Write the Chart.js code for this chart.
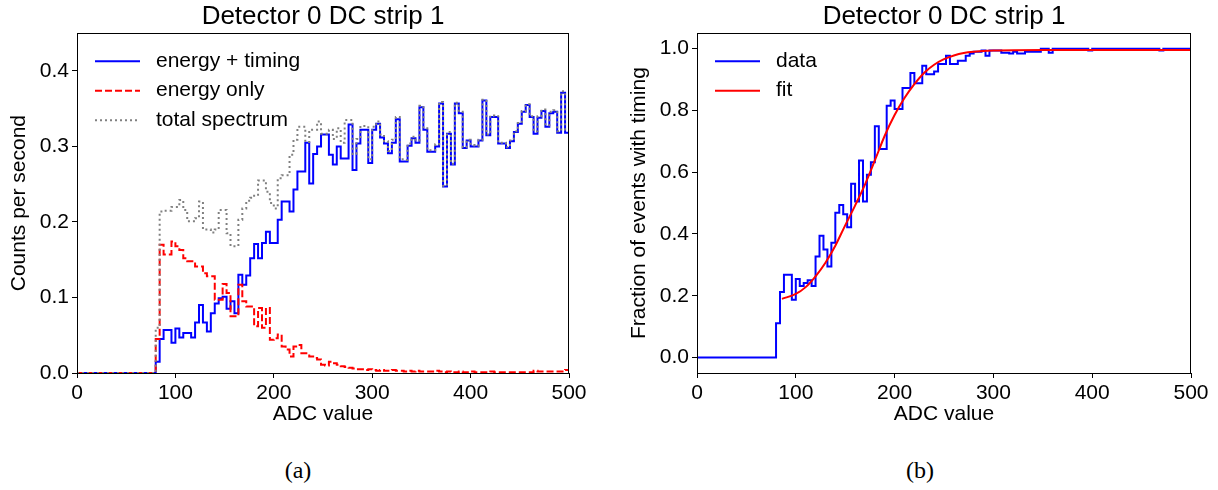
<!DOCTYPE html>
<html>
<head>
<meta charset="utf-8">
<title>Detector 0 DC strip 1</title>
<script src="https://cdn.jsdelivr.net/npm/chart.js@4.4.1/dist/chart.umd.min.js"></script>
<style>
  body { margin: 0; background: #fff; }
  #fig { position: relative; width: 1218px; height: 490px; }
  #fig canvas { position: absolute; top: 0; }
  .cap { position: absolute; top: 457px; width: 60px; text-align: center;
         font: 24px "Liberation Serif", "DejaVu Serif", serif; color: #000; }
</style>
</head>
<body>
<div id="fig">
  <canvas id="spectrum" width="609" height="440" style="left:0"></canvas>
  <canvas id="fraction" width="609" height="440" style="left:609px"></canvas>
  <div class="cap" style="left:268px">(a)</div>
  <div class="cap" style="left:890px">(b)</div>
</div>
<script>
// histogram binning: 4 ADC wide bins, nothing below 80
const FIRST_EDGE = 80;
const BIN_WIDTH = 4;
const ADC_MAX = 500;

// counts per second, one value per bin starting at 80
const energyTiming = [
  0.015, 0.045, 0.057, 0.057, 0.040, 0.059, 0.047, 0.053, 0.053, 0.047,
  0.067, 0.090, 0.067, 0.055, 0.079, 0.092, 0.099, 0.101, 0.085, 0.095,
  0.079, 0.130, 0.117, 0.129, 0.152, 0.171, 0.152, 0.172, 0.187, 0.172,
  0.172, 0.203, 0.227, 0.227, 0.214, 0.243, 0.267, 0.267, 0.305, 0.251,
  0.290, 0.300, 0.316, 0.316, 0.289, 0.276, 0.300, 0.284, 0.284, 0.329,
  0.269, 0.304, 0.322, 0.322, 0.278, 0.322, 0.330, 0.312, 0.304, 0.291,
  0.305, 0.336, 0.280, 0.280, 0.301, 0.311, 0.305, 0.352, 0.322, 0.293,
  0.293, 0.300, 0.357, 0.247, 0.317, 0.276, 0.357, 0.344, 0.298, 0.308,
  0.300, 0.300, 0.308, 0.361, 0.315, 0.339, 0.339, 0.304, 0.304, 0.298,
  0.307, 0.319, 0.330, 0.346, 0.355, 0.339, 0.317, 0.338, 0.347, 0.326,
  0.344, 0.346, 0.318, 0.371, 0.318
];
const energyOnly = [
  0.045, 0.170, 0.157, 0.157, 0.174, 0.168, 0.163, 0.152, 0.148, 0.148,
  0.141, 0.141, 0.132, 0.128, 0.128, 0.097, 0.097, 0.118, 0.106, 0.075,
  0.075, 0.117, 0.095, 0.088, 0.088, 0.062, 0.086, 0.060, 0.086, 0.044,
  0.046, 0.051, 0.035, 0.031, 0.022, 0.035, 0.037, 0.026, 0.026, 0.022,
  0.020, 0.018, 0.011, 0.010, 0.015, 0.013, 0.011, 0.009, 0.008, 0.007,
  0.006, 0.005, 0.005, 0.004, 0.005, 0.004, 0.003, 0.004, 0.003, 0.003,
  0.004, 0.003, 0.003, 0.002, 0.003, 0.002, 0.003, 0.002, 0.002, 0.002,
  0.002, 0.003, 0.002, 0.001, 0.002, 0.001, 0.001, 0.002, 0.001, 0.001,
  0.002, 0.001, 0.001, 0.001, 0.001, 0.002, 0.001, 0.001, 0.001, 0.001,
  0.001, 0.001, 0.001, 0.001, 0.001, 0.001, 0.003, 0.002, 0.002, 0.002,
  0.002, 0.002, 0.002, 0.002, 0.004
];
const totalSpectrum = [
  0.060, 0.214, 0.215, 0.215, 0.220, 0.220, 0.229, 0.216, 0.201, 0.201,
  0.205, 0.227, 0.190, 0.190, 0.186, 0.190, 0.216, 0.216, 0.185, 0.168,
  0.168, 0.203, 0.218, 0.228, 0.232, 0.236, 0.255, 0.255, 0.240, 0.225,
  0.218, 0.258, 0.262, 0.262, 0.289, 0.309, 0.326, 0.326, 0.306, 0.322,
  0.322, 0.333, 0.317, 0.317, 0.322, 0.310, 0.324, 0.305, 0.335, 0.335,
  0.290, 0.310, 0.327, 0.327, 0.283, 0.326, 0.333, 0.316, 0.307, 0.294,
  0.309, 0.339, 0.283, 0.282, 0.304, 0.313, 0.308, 0.354, 0.324, 0.295,
  0.295, 0.303, 0.359, 0.248, 0.319, 0.277, 0.358, 0.346, 0.299, 0.309,
  0.302, 0.301, 0.309, 0.362, 0.316, 0.341, 0.340, 0.305, 0.305, 0.299,
  0.308, 0.320, 0.331, 0.347, 0.356, 0.340, 0.320, 0.340, 0.349, 0.328,
  0.346, 0.348, 0.320, 0.373, 0.322
];

// fraction of events with timing, same bins
const timingFraction = [
  0.111, 0.212, 0.268, 0.268, 0.187, 0.254, 0.232, 0.241, 0.250, 0.232,
  0.327, 0.394, 0.350, 0.295, 0.372, 0.469, 0.494, 0.464, 0.422, 0.563,
  0.505, 0.638, 0.505, 0.592, 0.632, 0.749, 0.675, 0.675, 0.815, 0.832,
  0.805, 0.805, 0.873, 0.873, 0.921, 0.888, 0.888, 0.945, 0.917, 0.917,
  0.926, 0.950, 0.950, 0.977, 0.950, 0.950, 0.961, 0.961, 0.977, 0.984,
  0.990, 0.990, 0.994, 0.977, 0.994, 0.994, 0.994, 0.987, 0.987, 0.984,
  0.990, 0.984, 0.984, 0.990, 0.990, 0.990, 0.990, 1.000, 1.000, 0.987,
  1.000, 1.000, 1.000, 1.000, 1.000, 1.000, 1.000, 1.000, 1.000, 0.994,
  1.000, 1.000, 1.000, 1.000, 1.000, 1.000, 1.000, 1.000, 1.000, 1.000,
  1.000, 1.000, 1.000, 1.000, 1.000, 1.000, 1.000, 0.994, 1.000, 1.000,
  1.000, 1.000, 1.000, 1.000, 1.000
];

// fitted turn-on curve, sampled along ADC
const fitAdc = [86, 100, 110, 120, 130, 140, 150, 160, 170, 180, 190, 200,
                210, 220, 230, 240, 250, 260, 270, 280, 300, 350, 500];
const fitValue = [0.190, 0.206, 0.228, 0.263, 0.307, 0.362, 0.428, 0.492, 0.560,
                  0.638, 0.718, 0.785, 0.840, 0.885, 0.922, 0.948, 0.966, 0.978,
                  0.986, 0.990, 0.994, 0.996, 0.996];

const xTicks = [0, 100, 200, 300, 400, 500];

const FONT = '"Liberation Sans", Arial, Helvetica, sans-serif';
Chart.defaults.font.family = FONT;
Chart.defaults.font.size = 21;
Chart.defaults.color = '#000';

// bins -> step points, zero run from 0 up to the first edge
function histPoints(values) {
  const pts = [{ x: 0, y: 0 }];
  values.forEach((v, i) => pts.push({ x: FIRST_EDGE + i * BIN_WIDTH, y: v }));
  pts.push({ x: ADC_MAX, y: values[values.length - 1] });
  return pts;
}

// top/right spines
const frame = {
  id: 'frame',
  afterDraw(chart) {
    const { ctx, chartArea: a } = chart;
    ctx.save();
    ctx.strokeStyle = '#000';
    ctx.lineWidth = 1;
    ctx.strokeRect(Math.round(a.left) + 0.5, Math.round(a.top) + 0.5,
                   Math.round(a.right - a.left) - 1, Math.round(a.bottom - a.top));
    ctx.restore();
  }
};

// legend drawn inside the axes, upper left
const innerLegend = {
  id: 'innerLegend',
  afterDraw(chart, args, opts) {
    const { ctx, chartArea: a } = chart;
    ctx.save();
    ctx.font = '21px ' + FONT;
    ctx.textAlign = 'left';
    ctx.textBaseline = 'middle';
    chart.data.datasets.forEach((ds, i) => {
      const y = a.top + opts.top + i * opts.rowGap;
      const x0 = a.left + opts.left;
      ctx.strokeStyle = ds.borderColor;
      ctx.lineWidth = ds.borderWidth;
      ctx.setLineDash(ds.borderDash || []);
      ctx.beginPath();
      ctx.moveTo(x0, y);
      ctx.lineTo(x0 + opts.sample, y);
      ctx.stroke();
      ctx.setLineDash([]);
      ctx.fillStyle = '#000';
      ctx.fillText(ds.label, x0 + opts.textAt, y);
    });
    ctx.restore();
  }
};

function axes(opts) {
  return {
    x: {
      type: 'linear', min: 0, max: ADC_MAX,
      afterBuildTicks: s => { s.ticks = xTicks.map(v => ({ value: v })); },
      afterFit: s => { s.height = opts.xHeight; },
      ticks: { padding: 3, maxRotation: 0 },
      grid: { drawOnChartArea: false, tickLength: 5, color: '#000' },
      border: { color: '#000', width: 1 },
      title: { display: true, text: 'ADC value', padding: { top: 0, bottom: 13 } }
    },
    y: {
      min: opts.yMin, max: opts.yMax,
      afterBuildTicks: s => { s.ticks = opts.yTicks.map(v => ({ value: v })); },
      afterFit: s => { s.width = opts.yWidth; },
      ticks: { padding: 3, callback: v => v.toFixed(1) },
      grid: { drawOnChartArea: false, tickLength: 5, color: '#000' },
      border: { color: '#000', width: 1 },
      title: { display: true, text: opts.yTitle, padding: { top: opts.yTitlePad, bottom: 0 } }
    }
  };
}

function baseOptions(extra) {
  return {
    responsive: false,
    animation: false,
    devicePixelRatio: 1,
    layout: { padding: { top: 0, left: 0, bottom: 0, right: extra.padRight } },
    elements: { point: { radius: 0 }, line: { borderCapStyle: 'butt', tension: 0 } },
    plugins: {
      legend: { display: false },
      tooltip: { enabled: false },
      title: {
        display: true, text: 'Detector 0 DC strip 1', fullSize: false,
        font: { size: 26, weight: 'normal' }, padding: { top: 1, bottom: 1 }
      },
      innerLegend: { left: 18, top: 28, rowGap: 29.5, sample: 45, textAt: 61 }
    },
    scales: axes(extra)
  };
}

new Chart(document.getElementById('spectrum'), {
  type: 'line',
  data: {
    datasets: [
      { label: 'energy + timing', data: histPoints(energyTiming), stepped: true,
        borderColor: '#0000ff', borderWidth: 2, order: 3 },
      { label: 'energy only', data: histPoints(energyOnly), stepped: true,
        borderColor: '#ff0000', borderWidth: 2, borderDash: [7, 3], order: 2 },
      { label: 'total spectrum', data: histPoints(totalSpectrum), stepped: true,
        borderColor: '#808080', borderWidth: 2, borderDash: [2, 3], order: 1 }
    ]
  },
  options: baseOptions({
    padRight: 40, xHeight: 67, yWidth: 77, yMin: 0, yMax: 0.45,
    yTicks: [0, 0.1, 0.2, 0.3, 0.4], yTitle: 'Counts per second', yTitlePad: 7
  }),
  plugins: [frame, innerLegend]
});

new Chart(document.getElementById('fraction'), {
  type: 'line',
  data: {
    datasets: [
      { label: 'data', data: histPoints(timingFraction), stepped: true,
        borderColor: '#0000ff', borderWidth: 2, order: 2 },
      { label: 'fit', data: fitAdc.map((x, i) => ({ x, y: fitValue[i] })),
        cubicInterpolationMode: 'monotone',
        borderColor: '#ff0000', borderWidth: 2, order: 1 }
    ]
  },
  options: baseOptions({
    padRight: 27, xHeight: 67, yWidth: 88, yMin: -0.05, yMax: 1.05,
    yTicks: [0, 0.2, 0.4, 0.6, 0.8, 1.0], yTitle: 'Fraction of events with timing', yTitlePad: 18
  }),
  plugins: [frame, innerLegend]
});
</script>
</body>
</html>
